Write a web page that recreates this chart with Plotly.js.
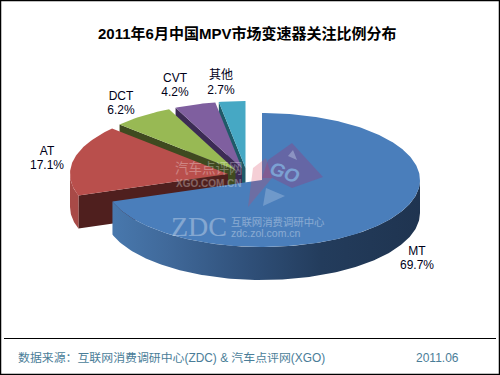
<!DOCTYPE html>
<html><head><meta charset="utf-8">
<script src="https://cdn.plot.ly/plotly-3.0.1.min.js"></script>
<style>html,body{margin:0;padding:0;background:#fff}#c{width:500px;height:375px}</style>
</head><body><div id="c"></div>
<script>
// ---- data ----
const categories = ['MT','AT','DCT','CVT','其他'];
const shares = [69.7,17.1,6.2,4.2,2.7];
const titleText = '2011年6月中国MPV市场变速器关注比例分布';
const sourceText = '数据来源：互联网消费调研中心(ZDC) & 汽车点评网(XGO)';
const dateText = '2011.06';

// ---- style and layout ----
const topColors  = ['#4a7ebb','#b94f4c','#98b954','#7f5f9f','#46a8c4'];
const wallColors = ['#1f3450','#4f1f1e','#3f4a20','#3c2b54','#1f5a68'];
const sideColors = [null,'#a84a47',null,null,null];
const apexes = [[262,180],[228,174],[235.5,170],[242,168.5],[245.5,168]];
const labelAnchors = [[417,252,266],[47,152,166],[121,97,111],[175,79,93],[221,76,91]];
const RX=158, RY=67, DEPTH=33;
const FONT='"Liberation Sans","Noto Sans CJK SC",sans-serif';

const total = shares.reduce((a,b)=>a+b,0);
const pt = (c,deg,dy=0)=>{const t=deg*Math.PI/180;return [c[0]+RX*Math.sin(t), c[1]-RY*Math.cos(t)+dy];};
function arc(c,a,b,dy=0){const n=Math.max(2,Math.ceil(Math.abs(b-a)));const o=[];for(let i=0;i<=n;i++)o.push(pt(c,a+(b-a)*i/n,dy));return o;}
function poly(points,color,extra){
  return Object.assign({type:'scatter',mode:'lines',x:points.map(p=>p[0]),y:points.map(p=>p[1]),
    fill:'toself',fillcolor:color,line:{width:0,color:color},hoverinfo:'skip',showlegend:false},extra||{});
}
let cum=0; const spans=shares.map(v=>{const s=cum/total*360;cum+=v;return [s,cum/total*360];});
const traces=[];
for(let i=categories.length-1;i>=0;i--){
  const [a,b]=spans[i],c=apexes[i];
  if(i===0){
    const from=90,to=b;
    const pts=arc(c,from,to).concat(arc(c,to,from,DEPTH));
    traces.push(poly(pts,wallColors[0],{fillgradient:{type:'horizontal',colorscale:[[0,'#4878ad'],[0.18,'#40699a'],[0.45,'#2f4f78'],[0.68,'#233c5c'],[1,'#1f3450']]}}));
  } else {
    traces.push(poly([pt(c,a),c,[c[0],c[1]+DEPTH],pt(c,a,DEPTH)],wallColors[i]));
    if(sideColors[i]&&a<270){
      const e=Math.min(b,270);
      traces.push(poly(arc(c,a,e).concat(arc(c,e,a,DEPTH)),sideColors[i]));
    }
  }
  traces.push(poly([c].concat(arc(c,a,b)),topColors[i]));
}
const labelStyle={family:FONT,size:12,color:'#000018'};
traces.push({type:'scatter',mode:'text',x:labelAnchors.map(p=>p[0]),y:labelAnchors.map(p=>p[1]),text:categories,textposition:'middle center',textfont:labelStyle,hoverinfo:'skip',showlegend:false});
traces.push({type:'scatter',mode:'text',x:labelAnchors.map(p=>p[0]),y:labelAnchors.map(p=>p[2]),text:shares.map(v=>v.toFixed(1)+'%'),textposition:'middle center',textfont:labelStyle,hoverinfo:'skip',showlegend:false});

const note=(text,x,y,size,color,extra)=>Object.assign({text,x,y,xref:'x',yref:'y',showarrow:false,xanchor:'center',yanchor:'middle',font:{family:FONT,size,color}},extra||{});
const annotations=[
  note('<b>'+titleText+'</b>',246.5,33.5,15,'#000'),
  note(sourceText,15.5,358,11.9,'#4a7d98',{xanchor:'left'}),
  note(dateText,437.5,358,12,'#4a7d98'),
  note('汽车点评网',209,168,13.5,'#ffffff',{opacity:.3}),
  note('<b>XGO.COM.CN</b>',209,183,10,'#ffffff',{opacity:.3}),
  note('ZDC',199,226,28,'#ffffff',{opacity:.32,font:{family:'"Liberation Serif",serif',size:28,color:'#ffffff'}}),
  note('互联网消费调研中心',278,222,10.4,'#ffffff',{opacity:.34}),
  note('zdc.zol.com.cn',265.5,232.5,10.5,'#ffffff',{opacity:.34}),
  note('<b><i>GO</i></b>',285,172,19,'#7fa8d8',{textangle:20,opacity:.9})
];
const logo=(path,fill,opacity)=>({type:'path',path,fillcolor:fill,opacity,line:{width:0},layer:'above',xref:'x',yref:'y'});
const shapes=[
  {type:'rect',xref:'paper',yref:'paper',x0:0,x1:1,y0:0,y1:1,line:{color:'#000',width:2.5},fillcolor:'rgba(0,0,0,0)'},
  {type:'line',xref:'x',yref:'y',x0:4,x1:496,y0:338.5,y1:338.5,line:{color:'#000',width:1}},
  logo('M292,143 L323,177 L292,188 L272,178 L262,178 L268,160 Z','#8a4488',.42),
  logo('M272,178 L248,207 L253,168 L266,158 Z','#d8405a',.25),
  logo('M293,150 L297,160 L288,156 Z','#c8d8ee',.4),
  logo('M266,188 L285,196 L263,206 Z','#c8d8ee',.3)
];
Plotly.newPlot('c',traces,{
  width:500,height:375,margin:{l:0,r:0,t:0,b:0},paper_bgcolor:'#fff',plot_bgcolor:'#fff',showlegend:false,
  xaxis:{range:[0,500],visible:false,fixedrange:true},
  yaxis:{range:[375,0],visible:false,fixedrange:true},
  annotations,shapes,hovermode:false
},{displayModeBar:false,staticPlot:true});
</script></body></html>
